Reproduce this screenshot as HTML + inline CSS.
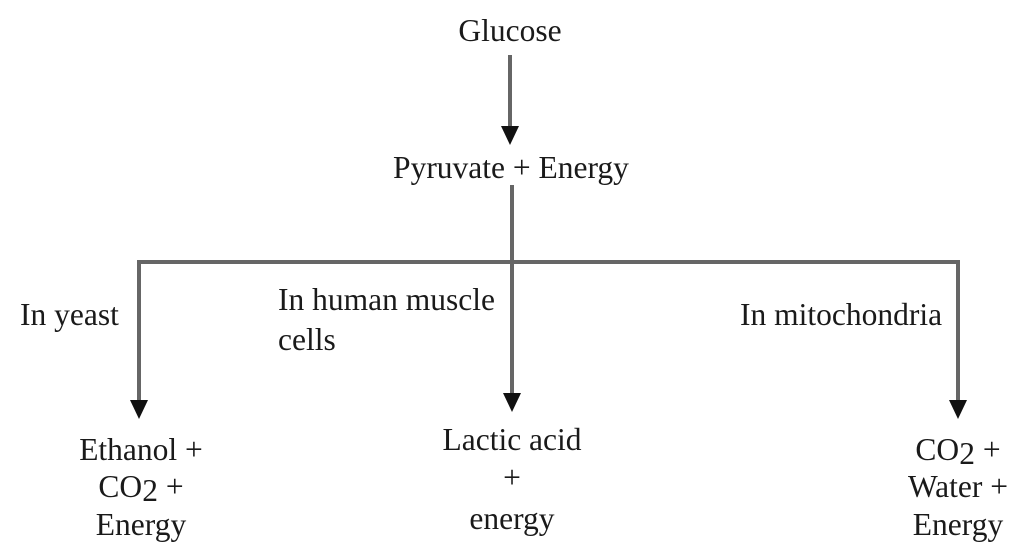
<!DOCTYPE html>
<html><head><style>
body{margin:0;background:#fff;}
svg text{font-family:"Liberation Serif",serif;font-size:31.5px;fill:#1a1a1a;}
</style></head><body>
<svg width="1015" height="553" viewBox="0 0 1015 553" xmlns="http://www.w3.org/2000/svg">
<g stroke="#666" stroke-width="4" fill="none">
<line x1="510" y1="55" x2="510" y2="128"/>
<line x1="512" y1="185" x2="512" y2="395"/>
<line x1="137" y1="262" x2="960" y2="262"/>
<line x1="139" y1="260" x2="139" y2="402"/>
<line x1="958" y1="260" x2="958" y2="402"/>
</g>
<g fill="#111">
<polygon points="501,126 519,126 510,145"/>
<polygon points="503,393 521,393 512,412"/>
<polygon points="130,400 148,400 139,419"/>
<polygon points="949,400 967,400 958,419"/>
</g>
<text x="510" y="41" text-anchor="middle">Glucose</text>
<text x="511" y="178" text-anchor="middle">Pyruvate + Energy</text>
<text x="20" y="325">In yeast</text>
<text x="278" y="310">In human muscle</text>
<text x="278" y="350">cells</text>
<text x="740" y="325">In mitochondria</text>
<text x="141" y="460" text-anchor="middle">Ethanol +</text>
<text x="141" y="497" text-anchor="middle">CO<tspan baseline-shift="-4">2</tspan> +</text>
<text x="141" y="535" text-anchor="middle">Energy</text>
<text x="512" y="450" text-anchor="middle">Lactic acid</text>
<text x="512" y="488" text-anchor="middle">+</text>
<text x="512" y="529" text-anchor="middle">energy</text>
<text x="958" y="460" text-anchor="middle">CO<tspan baseline-shift="-4">2</tspan> +</text>
<text x="958" y="497" text-anchor="middle">Water +</text>
<text x="958" y="535" text-anchor="middle">Energy</text>
</svg>
</body></html>
